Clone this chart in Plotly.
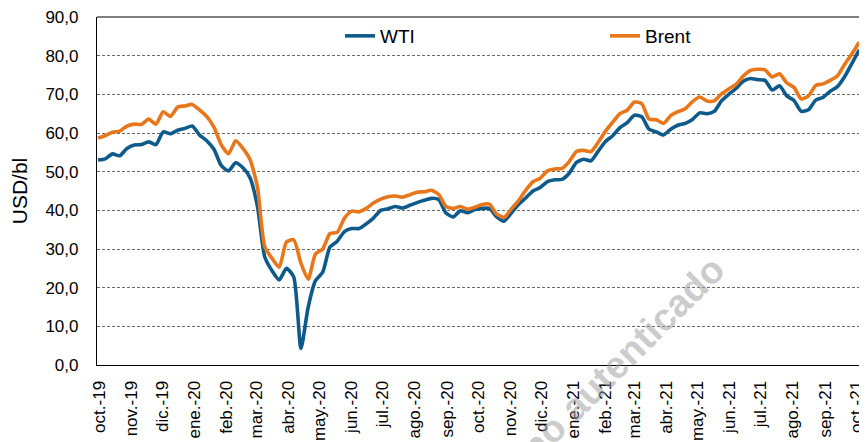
import pandas as pd
import plotly.graph_objects as go

# Weekly series (USD/bl)
week_start = "2019-09-30"

wti = [53.0, 53.3, 54.6, 54.1, 56.0, 56.9, 57.0, 57.7, 57.0, 60.3,
       59.8, 60.7, 61.2, 61.8, 59.5, 58.0, 55.8, 51.6, 50.2, 52.3,
       51.0, 48.3, 41.0, 28.0, 24.4, 22.0, 25.0, 22.8, 4.3, 15.0,
       21.8, 24.0, 30.5, 32.0, 34.5, 35.3, 35.3, 36.5, 38.0, 40.0,
       40.4, 41.0, 40.6, 41.3, 42.0, 42.6, 43.1, 42.8, 39.3, 38.3,
       39.9, 39.4, 40.2, 40.5, 40.5, 38.3, 37.2, 39.3, 41.5, 43.2,
       45.0, 45.9, 47.4, 47.9, 48.0, 49.6, 52.4, 53.2, 52.8, 55.3,
       57.8, 59.3, 61.4, 62.7, 64.6, 64.2, 61.0, 60.3, 59.5, 61.0,
       62.0, 62.5, 63.5, 65.2, 65.0, 65.6, 68.3, 70.0, 71.5, 73.4,
       74.1, 73.8, 73.6, 71.1, 72.2, 69.6, 68.4, 65.6, 66.0, 68.5,
       69.2, 70.8, 72.0, 74.6, 78.0, 81.5]

brent = [58.7, 59.3, 60.2, 60.5, 61.8, 62.3, 62.2, 63.6, 62.3, 65.5,
         64.3, 66.7, 67.0, 67.4, 66.0, 64.3, 61.5, 57.0, 54.6, 58.0,
         56.0, 53.0, 46.0, 30.6, 27.6, 25.3, 31.8, 32.4, 26.3, 22.2,
         28.7, 30.0, 34.0, 34.3, 38.0, 39.8, 39.6, 40.5, 41.9, 42.9,
         43.5, 43.7, 43.4, 44.0, 44.7, 44.8, 45.2, 44.1, 41.0, 40.5,
         41.0, 40.3, 40.8, 41.5, 41.6, 39.0, 38.2, 40.3, 42.5, 45.2,
         47.4, 48.3, 50.2, 50.7, 50.8, 52.6, 55.2, 55.5, 55.2, 57.6,
         60.5, 62.8, 65.0, 65.9, 68.0, 67.6, 63.6, 63.4, 62.5, 64.5,
         65.5, 66.3, 68.1, 69.3, 68.3, 68.3, 70.1, 71.4, 72.6, 74.7,
         76.2, 76.5, 76.3, 74.5, 75.3, 73.0, 71.8, 68.8, 69.6, 72.3,
         72.7, 73.6, 74.8, 77.8, 80.5, 83.5]

month_labels = ["oct.-19", "nov.-19", "dic.-19", "ene.-20", "feb.-20", "mar.-20",
                "abr.-20", "may.-20", "jun.-20", "jul.-20", "ago.-20", "sep.-20",
                "oct.-20", "nov.-20", "dic.-20", "ene.-21", "feb.-21", "mar.-21",
                "abr.-21", "may.-21", "jun.-21", "jul.-21", "ago.-21", "sep.-21",
                "oct.-21"]

y_ticks = [0, 10, 20, 30, 40, 50, 60, 70, 80, 90]

dates = pd.date_range(week_start, periods=len(wti), freq="7D")
month_ticks = pd.date_range("2019-10-01", periods=len(month_labels), freq="MS")

FONT = "Liberation Sans, Arial, sans-serif"
BLUE = "#0E5A8A"
ORANGE = "#E8761A"

# page body has an 8px default margin; figure is sized/positioned to compensate
OFF = 8
W, H = 867 - OFF, 442 - OFF
L, T, B = 97 - OFF, 17 - OFF, 77
PW, PH = W - L, H - T - B   # plot area size (770 x 348)

fig = go.Figure()
fig.add_trace(go.Scatter(x=dates, y=wti, name="WTI", mode="lines", legend="legend",
                         line=dict(color=BLUE, width=3.6, shape="spline", smoothing=0.6)))
fig.add_trace(go.Scatter(x=dates, y=brent, name="Brent", mode="lines", legend="legend2",
                         line=dict(color=ORANGE, width=3.6, shape="spline", smoothing=0.6)))

legend_common = dict(orientation="h", xanchor="left", yanchor="middle",
                     font=dict(family=FONT, size=19, color="black"),
                     bgcolor="rgba(0,0,0,0)", borderwidth=0)

fig.update_layout(
    width=W, height=H,
    margin=dict(l=L, r=0, t=T, b=B, autoexpand=False),
    paper_bgcolor="white", plot_bgcolor="white",
    separators=",.",
    font=dict(family=FONT, size=17, color="black"),
    showlegend=True,
    legend=dict(x=(340 - 97) / PW, y=(365 - 36) / PH, **legend_common),
    legend2=dict(x=(605 - 97) / PW, y=(365 - 36) / PH, **legend_common),
    xaxis=dict(type="date", range=["2019-09-29 02:00", "2021-10-11 12:00"],
               tickmode="array", tickvals=month_ticks, ticktext=month_labels,
               tickangle=-90, showgrid=False, zeroline=False,
               showline=True, linecolor="black", linewidth=1.2,
               ticks="", ticklabelstandoff=8, automargin=False,
               ticklabeloverflow="allow",
               tickfont=dict(family=FONT, size=17, color="black")),
    yaxis=dict(range=[0, 90], tickmode="array", tickvals=y_ticks,
               tickformat=".1f", showgrid=True, gridcolor="#6a6a6a", gridwidth=1,
               griddash="3px,2px", zeroline=False,
               showline=True, linecolor="black", linewidth=1.2,
               ticks="", ticklabelstandoff=14, automargin=False,
               ticklabeloverflow="allow",
               tickfont=dict(family=FONT, size=17, color="black"),
               title=dict(text="USD/bl", standoff=12,
                          font=dict(family=FONT, size=21, color="black"))),
    shapes=[dict(type="line", xref="paper", yref="paper", x0=0, x1=1, y0=1, y1=1,
                 line=dict(color="black", width=1.2), layer="above")],
    annotations=[dict(text="<b>Documento no autenticado</b>", xref="paper", yref="paper",
                      x=(545 - 97) / PW, y=(365 - 436) / PH,
                      xanchor="center", yanchor="middle",
                      showarrow=False, textangle=-45,
                      font=dict(family=FONT, size=38, color="rgba(160,160,160,0.55)"))],
)

fig.write_html("out.html")
